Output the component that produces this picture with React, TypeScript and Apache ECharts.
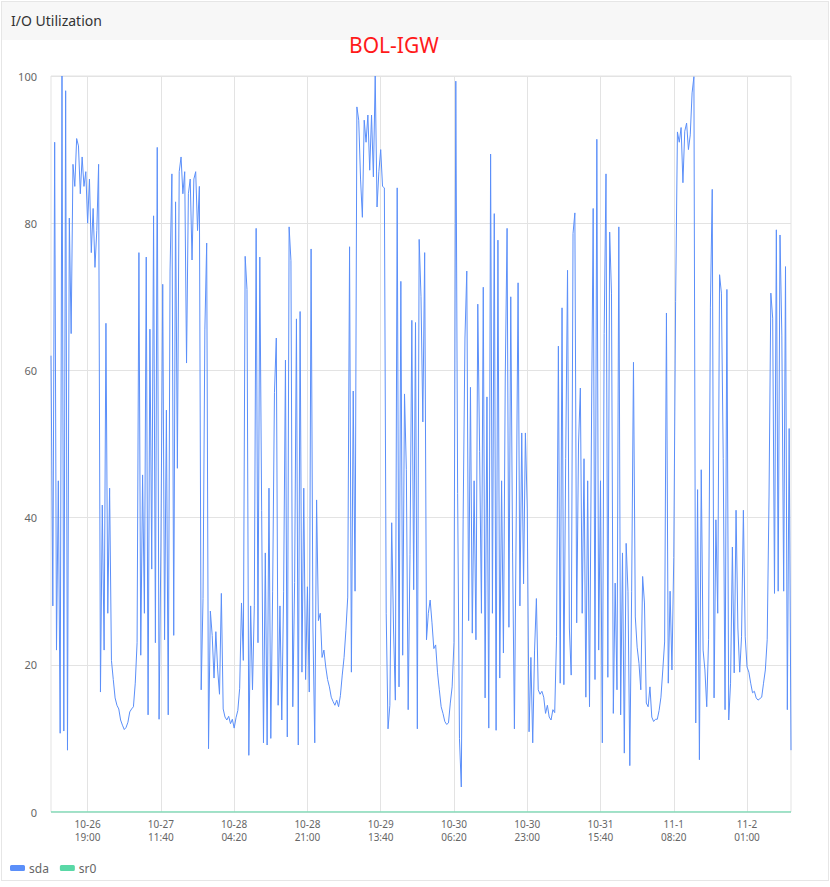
import React, { useEffect, useRef } from "react";
import * as echarts from "echarts";

// sda utilisation (%), one value every 25 minutes from 10-26 10:40
const sda1 = [
  62, 28, 91, 22, 45, 10.7, 100, 11, 98, 8.4,
  80.7, 65, 88, 85, 91.5, 90.5, 84, 89, 85, 87,
  80, 86, 76, 82, 74, 79, 88, 16.3, 41.7, 22,
  66.4, 27, 44, 20.6, 18, 15.5, 14.5, 14, 12.5, 11.8,
  11.2, 11.5, 12.2, 13.6, 14, 14.3, 17.5, 23, 76, 21.3,
  45.8, 27, 75.4, 13.2, 65.6, 33, 81, 23, 90.3, 12.6,
  36, 71.7, 23.4, 54.6, 13.2, 73.5, 86.7, 24, 82.9, 46.7,
  87, 89, 84, 87, 61, 84, 86, 75, 86, 87,
  79, 85, 16.6, 29, 65.5, 77.3, 8.6, 27.3, 24, 18.2,
  24.5, 19.3, 16, 29.7, 14, 12.9, 12.5, 13, 12, 12.6,
];
const sda2 = [
  11.4, 12.8, 13.8, 16.8, 28.4, 20.6, 75.5, 71, 7.7, 28,
  16.6, 28, 79.3, 23, 75.4, 41, 9.4, 35.2, 9.1, 44,
  10, 30, 57, 64.4, 14.5, 28, 12.5, 30, 61.4, 10.2,
  79.5, 74.9, 14.3, 31.2, 67, 9.1, 68, 19, 44, 18,
  30.6, 16.3, 76.5, 25, 9.4, 42.4, 26, 27, 21, 22,
  19.7, 18, 17, 15.6, 15, 14.5, 15.2, 14.3, 15.8, 18.6,
  21, 24.7, 29.2, 76.8, 19, 57.2, 30, 95.8, 94, 86,
  80.8, 94, 91, 94.7, 87.2, 94.7, 86.3, 100, 82.2, 87,
  90, 85, 84.8, 27, 11.3, 14.5, 39.3, 25, 15.2, 84.8,
  17, 72.1, 21.3, 56.8, 46.5, 13.9, 35, 66.8, 30.2, 66.5,
];
const sda3 = [
  11.3, 77.8, 70, 53, 76, 23.4, 27, 28.8, 25.7, 22.2,
  22.7, 19, 16.6, 14.3, 13.4, 12.3, 11.9, 12.1, 14.8, 17,
  23, 99.3, 43.3, 10, 3.4, 39.7, 64.4, 73.5, 26, 57.7,
  24.3, 45, 23.4, 69, 49, 27, 71.3, 15.5, 56.4, 11.4,
  89.4, 27, 81.3, 11.1, 77.7, 18.2, 45, 21.6, 59.1, 79.3,
  25.1, 70, 35.2, 11.3, 40, 71.9, 28, 51.5, 31, 51.5,
  41.3, 10.9, 21, 9.4, 22, 29, 16.6, 16, 16.4, 15.6,
  13.4, 14.5, 12.9, 12.5, 13.9, 13.5, 23.8, 63.3, 17.5, 68.5,
  17.3, 48, 73.6, 25, 18.6, 78.6, 81.4, 25.7, 50, 57.6,
  27, 48, 15.6, 45, 14.3, 50, 82, 18, 91.4, 22,
];
const sda4 = [
  45, 9.4, 65, 86.7, 18.3, 78.8, 70.5, 13.4, 31.1, 16.6,
  79.5, 13.2, 35.2, 8, 36.5, 30, 6.3, 30, 61.1, 26.5,
  22.4, 20.2, 16.6, 32, 28.4, 14.8, 14.3, 17, 12.9, 12.3,
  12.6, 12.6, 13.8, 15.6, 19.3, 23.1, 67.8, 17.5, 30, 19.3,
  34.6, 69.4, 92.4, 91, 93, 85.5, 92.5, 93.6, 90, 92,
  97.7, 99.9, 12.1, 43.8, 7.1, 46.5, 22, 19.3, 14.3, 23.4,
  68.6, 84.6, 15.5, 39.7, 27, 73, 70.5, 48, 13.9, 71,
  12.5, 17.5, 36, 18.9, 41, 25, 19, 23.8, 41, 23.8,
  19.7, 19, 17.5, 16.2, 16.4, 15.5, 15.2, 15.4, 15.6, 17.5,
  19.3, 23.4, 42.8, 70.5, 67.1, 29.7, 79.1, 30, 78.4, 64.8,
  30, 74.1, 13.9, 52.1, 8.4,
];
const sda = [...sda1, ...sda2, ...sda3, ...sda4];
// sr0 stays at 0 for the whole period
const sr0 = sda.map(() => 0);

const START = Date.UTC(2023, 9, 26, 10, 40);
const STEP_MIN = 25;
const pad = (n: number) => String(n).padStart(2, "0");
const categories = sda.map((_, i) => {
  const d = new Date(START + i * STEP_MIN * 60000);
  return `${d.getUTCMonth() + 1}-${d.getUTCDate()} ${pad(d.getUTCHours())}:${pad(d.getUTCMinutes())}`;
});
const FIRST_LABEL = 20;
const LABEL_EVERY = 40;
const showTick = (i: number) => i >= FIRST_LABEL && (i - FIRST_LABEL) % LABEL_EVERY === 0;

const FONT = "'Noto Sans', 'Noto Sans CJK SC', sans-serif";

export default function App() {
  const ref = useRef<HTMLDivElement>(null);
  useEffect(() => {
    if (!ref.current) return;
    const chart = echarts.init(ref.current, undefined, { renderer: "svg" });
    const labelBase = {
      interval: (i: number) => showTick(i),
      color: "#666",
      fontSize: 10,
    };
    chart.setOption({
      animation: false,
      textStyle: { fontFamily: FONT },
      title: {
        text: "BOL-IGW",
        left: 344,
        top: 29,
        textStyle: { color: "#ff1a1a", fontSize: 21, fontWeight: "normal", fontFamily: FONT },
      },
      legend: {
        left: 5,
        top: 857,
        icon: "roundRect",
        itemWidth: 15,
        itemHeight: 6,
        itemGap: 11,
        textStyle: { color: "#666", fontSize: 12, padding: [0, 0, 0, -1] },
        data: ["sda", "sr0"],
      },
      grid: {
        left: 51,
        right: 39,
        top: 76,
        bottom: 75,
        show: true,
        borderColor: "#e3e3e3",
        borderWidth: 1,
      },
      xAxis: [
        {
          type: "category",
          boundaryGap: false,
          data: categories,
          position: "bottom",
          axisLine: { show: false },
          axisTick: { show: false },
          axisLabel: {
            ...labelBase,
            margin: 7,
            formatter: (v: string) => v.split(" ")[0],
          },
          splitLine: {
            show: true,
            interval: (i: number) => showTick(i),
            lineStyle: { color: "#e3e3e3", width: 1 },
          },
        },
        {
          type: "category",
          boundaryGap: false,
          data: categories,
          position: "bottom",
          offset: 13,
          axisLine: { show: false },
          axisTick: { show: false },
          axisLabel: {
            ...labelBase,
            margin: 7,
            formatter: (v: string) => v.split(" ")[1],
          },
          splitLine: { show: false },
        },
      ],
      yAxis: {
        type: "value",
        min: 0,
        max: 100,
        interval: 20,
        axisLine: { show: false },
        axisTick: { show: false },
        axisLabel: { color: "#666", fontSize: 11, margin: 14 },
        splitLine: { lineStyle: { color: "#e3e3e3", width: 1 } },
      },
      series: [
        {
          name: "sda",
          type: "line",
          xAxisIndex: 0,
          data: sda,
          showSymbol: false,
          symbol: "none",
          lineStyle: { width: 1, color: "#5B8FF9" },
          itemStyle: { color: "#5B8FF9" },
          z: 2,
        },
        {
          name: "sr0",
          type: "line",
          xAxisIndex: 0,
          data: sr0,
          showSymbol: false,
          symbol: "none",
          lineStyle: { width: 1.5, color: "#5AD8A6", opacity: 0.75 },
          itemStyle: { color: "#5AD8A6" },
          z: 1,
        },
      ],
    });
    return () => chart.dispose();
  }, []);

  return (
    <div style={{ position: "absolute", left: 0, top: 0, width: 830, height: 887, background: "#fff", overflow: "hidden" }}>
      <div
        style={{
          position: "absolute",
          left: 1,
          top: 1,
          width: 826,
          height: 878,
          border: "1px solid #e6e6e6",
        }}
      >
        <div
          style={{
            height: 38,
            background: "#f7f7f7",
            fontFamily: FONT,
            fontSize: 14,
            color: "#333",
            lineHeight: "38px",
            paddingLeft: 9,
          }}
        >
          I/O Utilization
        </div>
      </div>
      <div ref={ref} style={{ position: "absolute", left: 0, top: 0, width: 830, height: 887 }} />
    </div>
  );
}
